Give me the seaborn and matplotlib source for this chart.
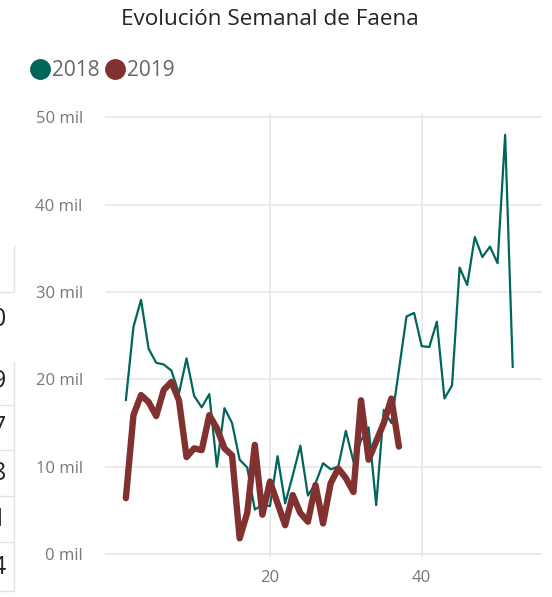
import numpy as np
import pandas as pd
import matplotlib
matplotlib.use('Agg')
import matplotlib.pyplot as plt
from matplotlib.lines import Line2D
from matplotlib.ticker import FuncFormatter
import seaborn as sns

sns.set_theme(style="white")
plt.rcParams['font.family'] = ['Open Sans', 'DejaVu Sans']

# datos semanales de faena (cabezas)
semanas_2018 = list(range(1, 53))
faena_2018 = [17600, 26000, 29100, 23500, 21900, 21700, 21000, 18400, 22400, 18100,
              16800, 18300, 10000, 16700, 15000, 10800, 9900, 5100, 5600, 5500,
              11200, 5800, 9000, 12400, 6700, 8100, 10400, 9700, 10000, 14100,
              10600, 13000, 14500, 5600, 16500, 15000, 21100, 27200, 27600, 23800,
              23700, 26600, 17800, 19300, 32800, 30800, 36300, 34000, 35200, 33300,
              48000, 21400]
semanas_2019 = list(range(1, 38))
faena_2019 = [6400, 15900, 18200, 17400, 15800, 18800, 19700, 17600, 11100, 12100,
              11900, 15900, 14400, 12100, 11300, 1800, 4700, 12500, 4500, 8300,
              5800, 3300, 6750, 4700, 3700, 7900, 3500, 8100, 9800, 8700,
              7100, 17600, 10800, 12900, 15000, 17800, 12300]

# tabla recortada a la izquierda (otro visual)
tabla_digitos = ["0", "9", "7", "8", "1", "4"]

col_2018 = "#00665C"
col_2019 = "#823131"

df18 = pd.DataFrame({"semana": semanas_2018, "faena": faena_2018})
df19 = pd.DataFrame({"semana": semanas_2019, "faena": faena_2019})

fig = plt.figure(figsize=(5.52, 5.97), dpi=100)
ax = fig.add_axes([105/552, 1 - 557/597, 437/552, 443/597])

sns.lineplot(data=df18, x="semana", y="faena", color=col_2018, linewidth=1.6, ax=ax)
sns.lineplot(data=df19, x="semana", y="faena", color=col_2019, linewidth=4.6, ax=ax,
             solid_capstyle="round", solid_joinstyle="round")

ax.set_xlim(-1.75, 55.86)
ax.set_ylim(-340, 50380)
ax.set_xticks([20, 40])
ax.set_yticks([0, 10000, 20000, 30000, 40000, 50000])
ax.yaxis.set_major_formatter(FuncFormatter(lambda v, p: f"{v/1000:.0f} mil"))
ax.set_xlabel("")
ax.set_ylabel("")
ax.grid(True, color="#e8e8e8", linewidth=1.2)
ax.set_axisbelow(True)
for s in ax.spines.values():
    s.set_visible(False)
ax.tick_params(axis="both", length=0, colors="#777777", labelsize=12)
ax.tick_params(axis="y", pad=16)
ax.tick_params(axis="x", pad=9)

fig.text(0.489, 0.968, "Evolución Semanal de Faena", ha="center", va="center",
         fontsize=16.2, color="#252423")

handles = [Line2D([], [], marker="o", linestyle="", markersize=14, color=col_2018),
           Line2D([], [], marker="o", linestyle="", markersize=14, color=col_2019)]
leg = fig.legend(handles, ["2018", "2019"], loc="center left",
                 bbox_to_anchor=(6/552, 1 - 71/597), ncol=2, frameon=False,
                 handletextpad=-0.2, columnspacing=0.0, fontsize=15, handlelength=1.5)
for t in leg.get_texts():
    t.set_color("#666666")

# bordes de la tabla recortada
linea = "#e3e3e3"
fig.add_artist(Line2D([14/552, 14/552], [1 - 245/597, 1 - 292/597], color=linea, lw=1))
fig.add_artist(Line2D([14/552, 14/552], [1 - 362/597, 1 - 591/597], color=linea, lw=1))
for yy in [292, 405, 450, 496, 542, 591]:
    fig.add_artist(Line2D([0, 14/552], [1 - yy/597, 1 - yy/597], color=linea, lw=1))
for d, yy in zip(tabla_digitos, [320, 382, 428, 474, 519, 567]):
    fig.text(6/552, 1 - yy/597, d, ha="right", va="center", fontsize=18, color="#252423")

fig.savefig("out.png", dpi=100)
